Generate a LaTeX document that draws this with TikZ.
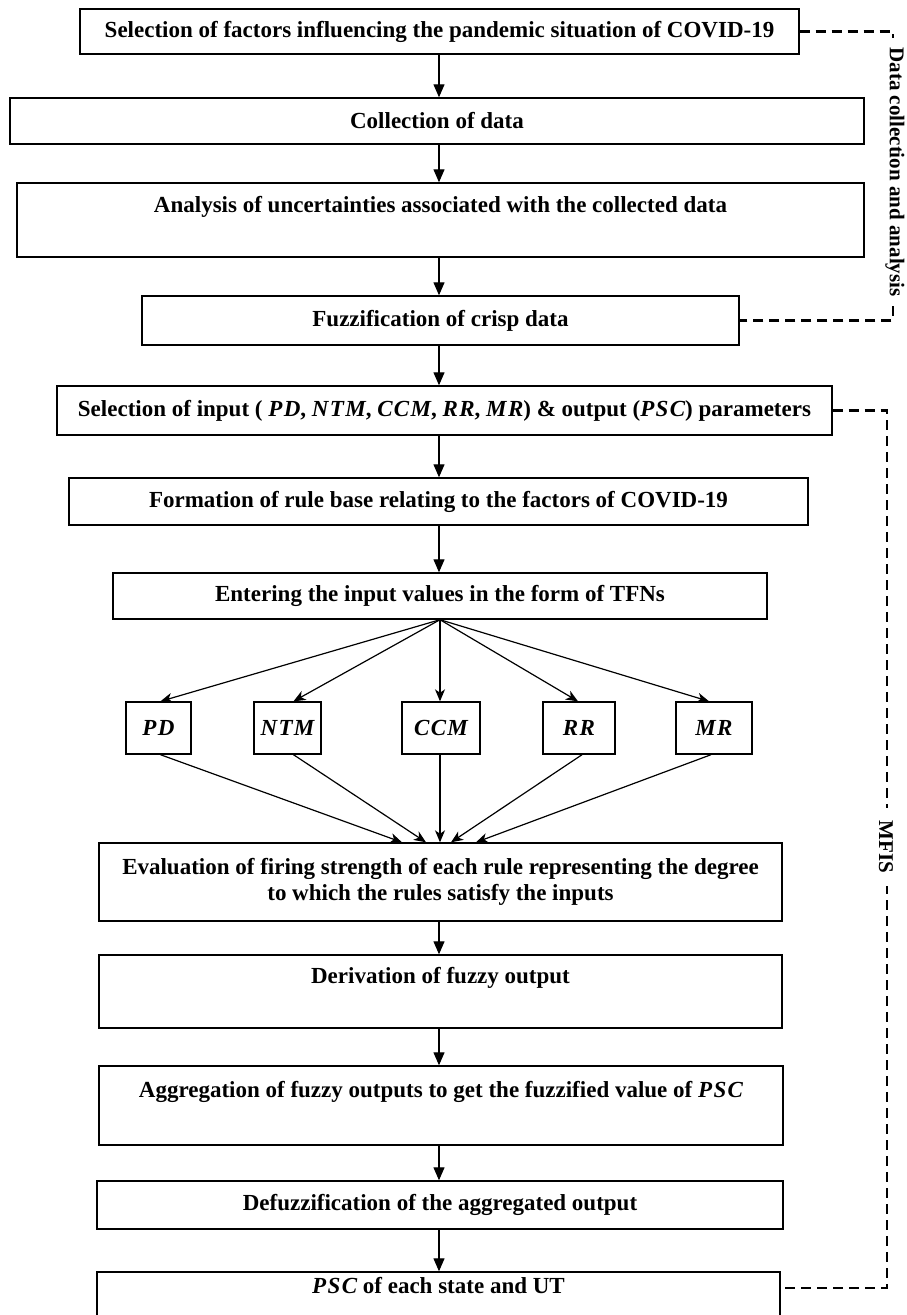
\documentclass[tikz,border=0pt]{standalone}
\usepackage{fontspec}
\setmainfont{Liberation Serif}
\newfontfamily\mifont[LetterSpace=6]{Liberation Serif}
\usetikzlibrary{arrows.meta}
\newcommand\mi[1]{{\mifont\bfseries\itshape #1}}
\begin{document}
\begin{tikzpicture}[x=1pt,y=-1pt,
  box/.style={draw, line width=1.4pt, inner sep=0pt, align=center,
    font=\fontsize{23}{26.5}\selectfont\bfseries},
  sbox/.style={draw, line width=1.4pt, inner sep=0pt, minimum height=52pt,
    font=\fontsize{23}{26.5}\selectfont},
  varr/.style={line width=1.2pt, -{Triangle[length=13pt,width=11pt]}},
  farr/.style={line width=1.2pt, -{Stealth[length=12pt,width=10pt,inset=3.5pt]}},
  dsh/.style={line width=2.2pt, dash pattern=on 10pt off 6pt},
  dlabel/.style={fill=white, inner xsep=9pt, inner ysep=1pt,
    font=\fontsize{21}{24}\selectfont\bfseries}]
\useasboundingbox (0,0) rectangle (907,1315);
\fill[white] (0,0) rectangle (907,1315);

\node[box, minimum width=719pt, minimum height=45pt] (b1) at (439.5,31.5)
  {Selection of factors influencing the pandemic situation of COVID-19};
\node[box, minimum width=854pt, minimum height=46pt] (b2) at (437,121)
  {Collection of data};
\node[box, minimum width=847pt, minimum height=74pt] (b3) at (440.5,220)
  {\strut Analysis of uncertainties associated with the collected data\\\strut};
\node[box, minimum width=597pt, minimum height=49pt] (b4) at (440.5,320.5)
  {Fuzzification of crisp data};
\node[box, minimum width=775pt, minimum height=49pt] (b5) at (444.5,410.5)
  {Selection of input ( \mi{PD}, \mi{NTM}, \mi{CCM}, \mi{RR}, \mi{MR}) \& output (\mi{PSC}) parameters};
\node[box, minimum width=739pt, minimum height=47pt] (b6) at (438.5,501.5)
  {Formation of rule base relating to the factors of COVID-19};
\node[box, minimum width=654pt, minimum height=46pt] (b7) at (440,596)
  {Entering the input values in the form of TFNs};

\node[sbox, minimum width=65pt] (pd) at (158.5,728) {\mi{PD}};
\node[sbox, minimum width=67pt] (ntm) at (287.5,728) {\mi{NTM}};
\node[sbox, minimum width=78pt] (ccm) at (441,728) {\mi{CCM}};
\node[sbox, minimum width=72pt] (rr) at (579,728) {\mi{RR}};
\node[sbox, minimum width=76pt] (mr) at (714,728) {\mi{MR}};

\node[box, minimum width=683pt, minimum height=78pt] (b8) at (440.5,882)
  {Evaluation of firing strength of each rule representing the degree\\to which the rules satisfy the inputs};
\node[box, minimum width=683pt, minimum height=73pt] (b9) at (440.5,991.5)
  {\strut Derivation of fuzzy output\\\strut};
\node[box, minimum width=684pt, minimum height=79pt] (b10) at (441,1105.5)
  {\strut Aggregation of fuzzy outputs to get the fuzzified value of \mi{PSC}\\\strut};
\node[box, minimum width=686pt, minimum height=48pt] (b11) at (440,1205)
  {Defuzzification of the aggregated output};
\node[box, minimum width=683pt, minimum height=58pt] (b12) at (438.5,1301)
  {\strut\mi{PSC} of each state and UT\\\strut};

\coordinate (ax) at (439,0);
\draw[varr] (b1.south -| ax) -- (b2.north -| ax);
\draw[varr] (b2.south -| ax) -- (b3.north -| ax);
\draw[varr] (b3.south -| ax) -- (b4.north -| ax);
\draw[varr] (b4.south -| ax) -- (b5.north -| ax);
\draw[varr] (b5.south -| ax) -- (b6.north -| ax);
\draw[varr] (b6.south -| ax) -- (b7.north -| ax);
\draw[varr] (b8.south -| ax) -- (b9.north -| ax);
\draw[varr] (b9.south -| ax) -- (b10.north -| ax);
\draw[varr] (b10.south -| ax) -- (b11.north -| ax);
\draw[varr] (b11.south -| ax) -- (b12.north -| ax);

\draw[farr] (b7.south) -- ([xshift=2pt]pd.north);
\draw[farr] (b7.south) -- ([xshift=6pt]ntm.north);
\draw[farr] (b7.south) -- (b7.south |- ccm.north);
\draw[farr] (b7.south) -- ([xshift=-1pt]rr.north);
\draw[farr] (b7.south) -- ([xshift=-5pt]mr.north);

\draw[farr] ([xshift=2pt]pd.south) -- ([xshift=-38.5pt]b8.north);
\draw[farr] ([xshift=6pt]ntm.south) -- ([xshift=-14.5pt]b8.north);
\draw[farr] (ccm.south -| b7.south) -- (b7.south |- b8.north);
\draw[farr] ([xshift=3pt]rr.south) -- ([xshift=10.5pt]b8.north);
\draw[farr] ([xshift=-3pt]mr.south) -- ([xshift=35.5pt]b8.north);

\coordinate (dx) at (893,0);
\draw[dsh] (b1.east) -- (b1.east -| dx) -- (b4.east -| dx) -- (b4.east);
\node[dlabel, rotate=-90] (dlab) at (895,172) {Data collection and analysis};

\coordinate (mx) at (887,0);
\draw[dsh] (b5.east) -- (b5.east -| mx) -- ([yshift=13pt]b12.east -| mx) -- ([yshift=13pt]b12.east);
\node[dlabel, rotate=-90, inner xsep=13pt] (mfis) at (886,847) {MFIS};
\end{tikzpicture}
\end{document}
